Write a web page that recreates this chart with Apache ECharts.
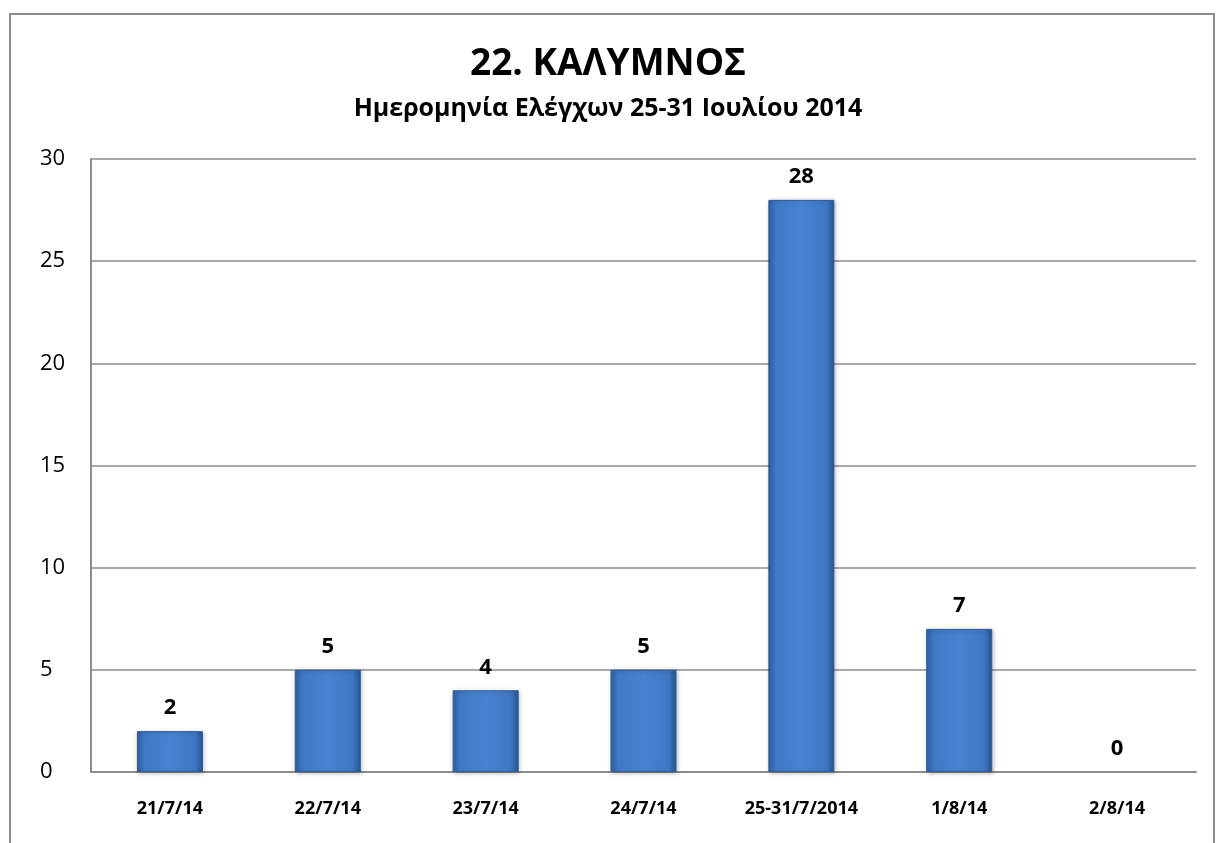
<!DOCTYPE html>
<html>
<head>
<meta charset="utf-8">
<script src="https://cdn.jsdelivr.net/npm/echarts@6/dist/echarts.min.js"></script>
<style>
  html, body { margin: 0; padding: 0; background: #fff; }
  #chart { width: 1216px; height: 843px; }
</style>
</head>
<body>
<div id="chart"></div>
<script>
// δεδομένα
const categories = ['21/7/14', '22/7/14', '23/7/14', '24/7/14', '25-31/7/2014', '1/8/14', '2/8/14'];
const values = [2, 5, 4, 5, 28, 7, 0];
const titleText = '22. ΚΑΛΥΜΝΟΣ';
const subtitleText = 'Ημερομηνία Ελέγχων 25-31 Ιουλίου 2014';

const font = '"Open Sans", "Noto Sans", sans-serif';

const chart = echarts.init(document.getElementById('chart'));

const option = {
  animation: false,
  backgroundColor: '#fff',
  textStyle: { fontFamily: font },
  graphic: [
    {
      // εξωτερικό πλαίσιο
      type: 'rect',
      shape: { x: 10, y: 14, width: 1204, height: 850 },
      style: { fill: 'none', stroke: '#8c8c8c', lineWidth: 2 }
    }
  ],
  title: {
    text: titleText,
    subtext: subtitleText,
    left: 'center',
    top: 41,
    itemGap: 13,
    textStyle: { fontSize: 37, fontWeight: 'bold', color: '#000', fontFamily: font },
    subtextStyle: { fontSize: 25, fontWeight: 'bold', color: '#000', fontFamily: font }
  },
  grid: {
    left: 91,
    right: 20,
    top: 159,
    bottom: 71
  },
  xAxis: {
    type: 'category',
    data: categories,
    axisLine: { lineStyle: { color: '#8c8c8c', width: 2 } },
    axisTick: { show: false },
    axisLabel: {
      color: '#000',
      fontSize: 18,
      fontWeight: 'bold',
      margin: 28,
      fontFamily: font
    }
  },
  yAxis: {
    type: 'value',
    min: 0,
    max: 30,
    interval: 5,
    axisLine: { show: true, lineStyle: { color: '#8c8c8c', width: 2 } },
    axisTick: { show: false },
    axisLabel: { color: '#000', fontSize: 22, margin: 51, align: 'left', fontFamily: font },
    splitLine: { lineStyle: { color: '#8c8c8c', width: 1.5 } }
  },
  series: [
    {
      type: 'bar',
      data: values.map(v => (v === 0 ? { value: v, itemStyle: { borderWidth: 0, shadowBlur: 0, opacity: 0 } } : v)),
      barWidth: 66,
      itemStyle: {
        color: new echarts.graphic.LinearGradient(0, 0, 1, 0, [
          { offset: 0, color: '#2f62a6' },
          { offset: 0.12, color: '#4079c6' },
          { offset: 0.5, color: '#4883d2' },
          { offset: 0.88, color: '#3f77c3' },
          { offset: 1, color: '#28558f' }
        ]),
        borderColor: '#2c5c9c',
        borderWidth: 1,
        shadowColor: 'rgba(0,0,0,0.25)',
        shadowBlur: 4,
        shadowOffsetX: 1,
        shadowOffsetY: 1
      },
      label: {
        show: true,
        position: 'top',
        distance: 12,
        color: '#000',
        fontSize: 22,
        fontWeight: 'bold',
        opacity: 1,
        fontFamily: font
      }
    }
  ]
};

chart.setOption(option);
</script>
</body>
</html>
